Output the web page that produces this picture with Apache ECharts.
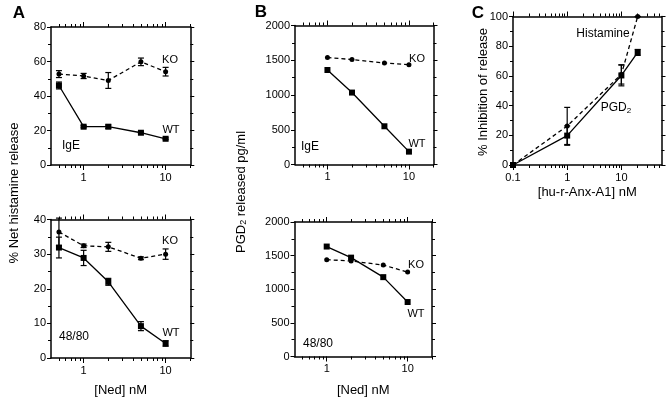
<!DOCTYPE html>
<html><head><meta charset="utf-8">
<script src="https://cdn.jsdelivr.net/npm/echarts@6/dist/echarts.min.js"></script>
<style>html,body{margin:0;padding:0;background:#fff}#c{width:669px;height:400px}</style>
</head><body><div id="c"></div>
<script>
const FONT = '"Liberation Sans", Arial, Helvetica, sans-serif';

// ---- doses (x values) ----
const nedDosesA = [0.5, 1, 2, 5, 10];
const nedDosesB = [1, 2, 5, 10];
const anxDoses = [0.1, 1, 10, 20];

// ---- tick values / labels ----
const nedMajorTicks = [1, 10];
const nedTickLabels = ['1', '10'];
const nedMinorTicks = [0.5, 0.6, 0.7, 0.8, 0.9, 2, 3, 4, 5, 6, 7, 8, 9, 20];
const anxMajorTicks = [0.1, 1, 10];
const anxTickLabels = ['0.1', '1', '10'];
const anxMinorTicks = [0.2, 0.3, 0.4, 0.5, 0.6, 0.7, 0.8, 0.9, 2, 3, 4, 5, 6, 7, 8, 9, 20, 30, 40, 50];

// ---- Panel A, IgE (% net histamine release) ----
const aIgE_KO = [52.7, 51.6, 49.0, 59.8, 54.1];
const aIgE_KO_err = [2.0, 1.5, 4.6, 2.2, 2.5];
const aIgE_WT = [46.1, 22.2, 22.2, 18.7, 15.2];
const aIgE_WT_err = [2.0, 0.6, 1.0, 0.5, 0.5];
// ---- Panel A, 48/80 ----
const a4880_KO = [36.4, 32.4, 32.1, 28.8, 30.0];
const a4880_KO_err = [4.0, 0.5, 1.3, 0.4, 1.5];
const a4880_WT = [31.9, 28.9, 22.0, 9.2, 4.2];
const a4880_WT_err = [3.0, 2.2, 1.0, 1.3, 0.8];
// ---- Panel B, IgE (PGD2 pg/ml) ----
const bIgE_KO = [1540, 1510, 1460, 1435];
const bIgE_WT = [1360, 1035, 550, 185];
// ---- Panel B, 48/80 ----
const b4880_KO = [1440, 1420, 1360, 1255];
const b4880_WT = [1635, 1470, 1180, 810];
// ---- Panel C (% inhibition) ----
const cHistamine = [0, 26.3, 61, 100];
const cHistamine_err = [0, 12.5, 6.5, 0];
const cPGD2 = [0, 19.8, 60.3, 75.8];
const cPGD2_err = [0, 6.5, 7, 2];

const grids = [], xAxes = [], yAxes = [], series = [];
const BLACK = '#000';

function labelOf(v, majors, labels) {
  for (let i = 0; i < majors.length; i++) {
    if (Math.abs(Math.log10(v) - Math.log10(majors[i])) < 1e-6) return labels[i];
  }
  return '';
}

function addPanel(box, xr, yr, majors, labels, minors, xName, xNameGap) {
  const g = grids.length;
  grids.push({ left: box[0], top: box[1], width: box[2], height: box[3], containLabel: false });
  const line = { show: true, onZero: false, lineStyle: { color: BLACK, width: 1.5 } };
  const tickStyle = { color: BLACK, width: 1 };
  const base = { type: 'log', logBase: 10, gridIndex: g, min: xr[0], max: xr[1], splitLine: { show: false } };
  const xi = xAxes.length;
  xAxes.push(Object.assign({}, base, {
    position: 'bottom', axisLine: line,
    axisTick: { show: true, customValues: majors, length: 5, lineStyle: tickStyle },
    axisLabel: { show: true, customValues: majors, formatter: v => labelOf(v, majors, labels),
      color: BLACK, fontFamily: FONT, fontSize: 11, margin: 7 },
    name: xName || '', nameLocation: 'middle', nameGap: xNameGap || 25,
    nameTextStyle: { color: BLACK, fontFamily: FONT, fontSize: 13 }
  }));
  xAxes.push(Object.assign({}, base, {
    position: 'bottom', axisLine: { show: false, onZero: false },
    axisTick: { show: true, customValues: minors, length: 3, lineStyle: tickStyle },
    axisLabel: { show: false }
  }));
  xAxes.push(Object.assign({}, base, {
    position: 'top', axisLine: line,
    axisTick: { show: true, customValues: majors, length: 5, lineStyle: tickStyle },
    axisLabel: { show: false }
  }));
  xAxes.push(Object.assign({}, base, {
    position: 'top', axisLine: { show: false, onZero: false },
    axisTick: { show: true, customValues: minors, length: 3, lineStyle: tickStyle },
    axisLabel: { show: false }
  }));
  const yi = yAxes.length;
  const ybase = { type: 'value', gridIndex: g, min: yr[0], max: yr[1], interval: yr[2], splitLine: { show: false },
    axisLine: line, axisTick: { show: true, length: 4, lineStyle: tickStyle },
    minorTick: { show: true, splitNumber: 2, length: 3, lineStyle: tickStyle } };
  yAxes.push(Object.assign({}, ybase, { position: 'left',
    axisLabel: { color: BLACK, fontFamily: FONT, fontSize: 11, margin: 5, formatter: v => String(v) } }));
  yAxes.push(Object.assign({}, ybase, { position: 'right', axisLabel: { show: false } }));
  return { x: xi, y: yi };
}

function lineSeries(ax, xs, ys, dashed) {
  series.push({
    type: 'line', xAxisIndex: ax.x, yAxisIndex: ax.y,
    data: xs.map((x, i) => [x, ys[i]]),
    symbol: dashed ? 'circle' : 'rect', symbolSize: dashed ? 5 : 6,
    lineStyle: { color: BLACK, width: 1.3, type: dashed ? [4, 3] : 'solid' },
    itemStyle: { color: BLACK }, animation: false, silent: true, z: 5
  });
}

function errSeries(ax, xs, ys, es) {
  series.push({
    type: 'custom', xAxisIndex: ax.x, yAxisIndex: ax.y, animation: false, silent: true, z: 4,
    data: xs.map((x, i) => [x, ys[i] - es[i], ys[i] + es[i]]),
    encode: { x: 0, y: [1, 2] },
    renderItem: function (params, api) {
      const x = api.value(0);
      const lo = api.coord([x, api.value(1)]);
      const hi = api.coord([x, api.value(2)]);
      const w = 3;
      const st = { stroke: BLACK, lineWidth: 1.2 };
      return { type: 'group', children: [
        { type: 'line', shape: { x1: lo[0], y1: lo[1], x2: hi[0], y2: hi[1] }, style: st },
        { type: 'line', shape: { x1: lo[0] - w, y1: lo[1], x2: lo[0] + w, y2: lo[1] }, style: st },
        { type: 'line', shape: { x1: hi[0] - w, y1: hi[1], x2: hi[0] + w, y2: hi[1] }, style: st }
      ] };
    }
  });
}

// Panel A
const pAtop = addPanel([51, 27, 139.3, 138], [0.4, 20], [0, 80, 20], nedMajorTicks, nedTickLabels, nedMinorTicks);
errSeries(pAtop, nedDosesA, aIgE_KO, aIgE_KO_err);
errSeries(pAtop, nedDosesA, aIgE_WT, aIgE_WT_err);
lineSeries(pAtop, nedDosesA, aIgE_KO, true);
lineSeries(pAtop, nedDosesA, aIgE_WT, false);

const pAbot = addPanel([51, 219.5, 139.3, 138.5], [0.4, 20], [0, 40, 10], nedMajorTicks, nedTickLabels, nedMinorTicks, '[Ned] nM', 26);
errSeries(pAbot, nedDosesA, a4880_KO, a4880_KO_err);
errSeries(pAbot, nedDosesA, a4880_WT, a4880_WT_err);
lineSeries(pAbot, nedDosesA, a4880_KO, true);
lineSeries(pAbot, nedDosesA, a4880_WT, false);

// Panel B
const pBtop = addPanel([295, 25.5, 138.5, 139], [0.4, 20], [0, 2000, 500], nedMajorTicks, nedTickLabels, nedMinorTicks);
lineSeries(pBtop, nedDosesB, bIgE_KO, true);
lineSeries(pBtop, nedDosesB, bIgE_WT, false);

const pBbot = addPanel([294.5, 222, 137.5, 134.5], [0.4, 20], [0, 2000, 500], nedMajorTicks, nedTickLabels, nedMinorTicks, '[Ned] nM', 27);
lineSeries(pBbot, nedDosesB, b4880_KO, true);
lineSeries(pBbot, nedDosesB, b4880_WT, false);

// Panel C
const pC = addPanel([513, 16.5, 148.5, 148.5], [0.1, 55], [0, 100, 20], anxMajorTicks, anxTickLabels, anxMinorTicks, '[hu-r-Anx-A1] nM', 21);
errSeries(pC, anxDoses, cHistamine, cHistamine_err);
errSeries(pC, anxDoses, cPGD2, cPGD2_err);
lineSeries(pC, anxDoses, cHistamine, true);
lineSeries(pC, anxDoses, cPGD2, false);

function txt(x, y, text, size, opts) {
  opts = opts || {};
  return Object.assign({
    type: 'text', x: x, y: y, rotation: opts.rot || 0, silent: true, z: 10,
    style: Object.assign({
      text: text, fill: BLACK,
      font: (opts.bold ? 'bold ' : '') + size + 'px ' + FONT,
      align: 'center', verticalAlign: 'middle', textAlign: 'center', textVerticalAlign: 'middle'
    }, opts.style || {})
  });
}

const graphics = [
  txt(19, 13, 'A', 17, { bold: true }),
  txt(261, 12, 'B', 17, { bold: true }),
  txt(478, 13, 'C', 17, { bold: true }),
  txt(170, 60, 'KO', 11), txt(171, 130, 'WT', 11), txt(71, 146, 'IgE', 12),
  txt(170, 241, 'KO', 11), txt(171, 333, 'WT', 11), txt(74, 337, '48/80', 12),
  txt(417, 59, 'KO', 11), txt(417, 144, 'WT', 11), txt(310, 147, 'IgE', 12),
  txt(416, 265, 'KO', 11), txt(416, 314, 'WT', 11), txt(318, 344, '48/80', 12),
  txt(603, 34, 'Histamine', 12),
  txt(616, 108, '{a|PGD}{s|2}', 12, { style: { rich: {
      a: { fontFamily: FONT, fontSize: 12, fill: BLACK, lineHeight: 14 },
      s: { fontFamily: FONT, fontSize: 8, fill: BLACK, verticalAlign: 'bottom', lineHeight: 8 } } } }),
  txt(14, 193, '% Net histamine release', 13, { rot: Math.PI / 2 }),
  txt(241, 192, '{a|PGD}{s|2}{a| released pg/ml}', 13, { rot: Math.PI / 2, style: { rich: {
      a: { fontFamily: FONT, fontSize: 13, fill: BLACK, lineHeight: 15 },
      s: { fontFamily: FONT, fontSize: 9, fill: BLACK, verticalAlign: 'bottom', lineHeight: 9 } } } }),
  txt(483, 92, '% Inhibition of release', 13, { rot: Math.PI / 2 })
];

const chart = echarts.init(document.getElementById('c'), null, { renderer: 'canvas' });
chart.setOption({
  animation: false,
  backgroundColor: '#fff',
  grid: grids, xAxis: xAxes, yAxis: yAxes, series: series, graphic: graphics
});
</script></body></html>
